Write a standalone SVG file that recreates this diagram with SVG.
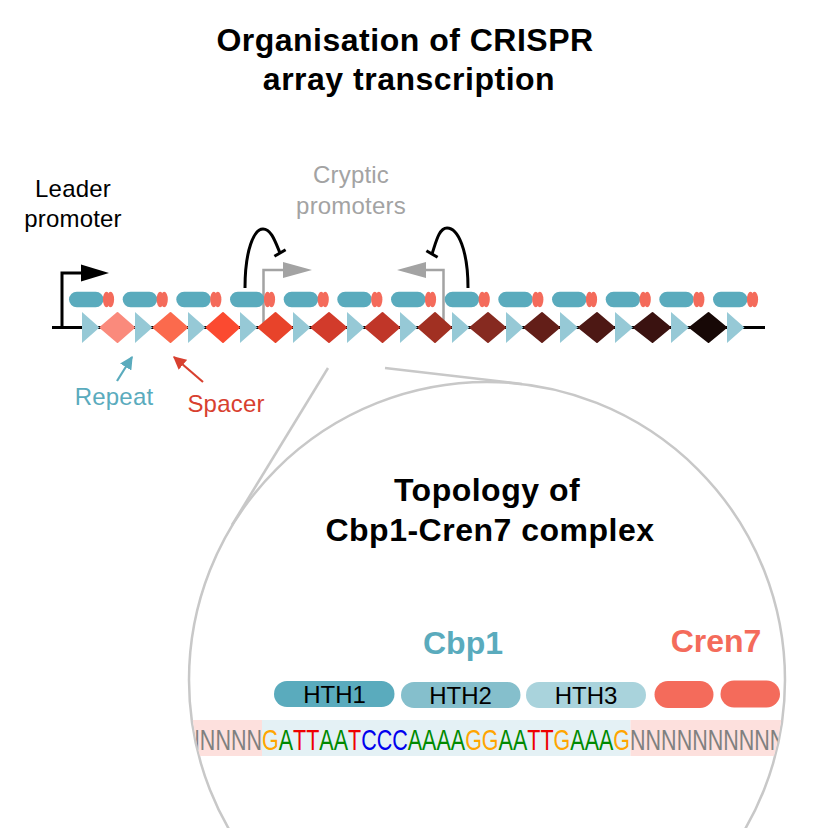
<svg xmlns="http://www.w3.org/2000/svg" width="828" height="828" viewBox="0 0 828 828">
<style>
text{font-family:"Liberation Sans",Arial,Helvetica,sans-serif}
.title{font-size:32px;font-weight:bold;fill:#000;letter-spacing:0.5px}
.lbl{font-size:24px;letter-spacing:0.2px}
.rep{fill:#96c9d6}
.pill{fill:#5aabbd}
.knob{fill:#f46b5b}
.bb{stroke:#000;stroke-width:3;fill:none}
.gray{stroke:#a3a3a3;stroke-width:2.5;fill:none}
.rpr{stroke:#000;stroke-width:3;fill:none;stroke-linecap:butt}
.zoom{stroke:#c8c8c8;stroke-width:2.5;fill:none}
.dia{stroke-linejoin:round;stroke-width:2}
.hth{font-size:24px;fill:#000}
.seq{font-size:30px}
.N{fill:#808080}.G{fill:#ffa500}.A{fill:#008a00}.T{fill:#ee0000}.C{fill:#0000ee}
</style>
<defs>
<marker id="ahTeal" viewBox="0 0 10 10" refX="9" refY="5" markerWidth="6" markerHeight="6" orient="auto" markerUnits="strokeWidth"><path d="M0,0 L10,5 L0,10 Z" fill="#5aabbd"/></marker>
<marker id="ahRed" viewBox="0 0 10 10" refX="9" refY="5" markerWidth="6" markerHeight="6" orient="auto" markerUnits="strokeWidth"><path d="M0,0 L10,5 L0,10 Z" fill="#d8402f"/></marker>
<clipPath id="circClip"><circle cx="487" cy="680" r="297"/></clipPath>
</defs>

<g id="title">
<text class="title" x="405" y="51" text-anchor="middle">Organisation of CRISPR</text>
<text class="title" x="409" y="90" text-anchor="middle">array transcription</text>
</g>

<g id="leader-label">
<text class="lbl" x="73" y="197" text-anchor="middle" fill="#000">Leader</text>
<text class="lbl" x="73" y="227" text-anchor="middle" fill="#000">promoter</text>
</g>

<g id="cryptic-label">
<text class="lbl" x="351" y="183" text-anchor="middle" fill="#a3a3a3">Cryptic</text>
<text class="lbl" x="351" y="214" text-anchor="middle" fill="#a3a3a3">promoters</text>
</g>

<g id="connectors">
<line class="bb" x1="52" y1="327.5" x2="765" y2="327.5"/>
<path class="bb" d="M62,327.5 V273 H84"/>
<polygon points="81,264.5 109,273 81,281.5" fill="#000"/>
<path class="gray" d="M263.5,327 V270 H286"/>
<polygon points="283,262 312,270 283,278" fill="#a3a3a3"/>
<path class="gray" d="M443.5,327 V270 H423"/>
<polygon points="426,262 397,270 426,278" fill="#a3a3a3"/>
<path class="rpr" d="M245,288 C245,250 254,229 263,229 C271,229 275,241 280,253"/>
<line class="rpr" x1="274.4" y1="256.3" x2="285.6" y2="249.8"/>
<path class="rpr" d="M468,288 C468,250 458,228 447,228 C439,228 436,242 432,254"/>
<line class="rpr" x1="426.4" y1="250.8" x2="437.6" y2="257.3"/>
<line x1="117" y1="381" x2="132" y2="357" stroke="#5aabbd" stroke-width="2.2" marker-end="url(#ahTeal)"/>
<line x1="203" y1="382" x2="174" y2="357" stroke="#d8402f" stroke-width="2.2" marker-end="url(#ahRed)"/>
<line class="zoom" x1="328" y1="368" x2="232" y2="525"/>
<line class="zoom" x1="385" y1="368" x2="522" y2="384"/>
</g>

<g id="array">
<g id="repeats">
<polygon class="rep" points="82,312 99.5,327.5 82,343"/>
<polygon class="rep" points="135,312 152.5,327.5 135,343"/>
<polygon class="rep" points="188,312 205.5,327.5 188,343"/>
<polygon class="rep" points="240,312 257.5,327.5 240,343"/>
<polygon class="rep" points="293,312 310.5,327.5 293,343"/>
<polygon class="rep" points="347,312 364.5,327.5 347,343"/>
<polygon class="rep" points="400,312 417.5,327.5 400,343"/>
<polygon class="rep" points="452,312 469.5,327.5 452,343"/>
<polygon class="rep" points="506,312 523.5,327.5 506,343"/>
<polygon class="rep" points="560,312 578,327.5 560,343"/>
<polygon class="rep" points="615,312 633,327.5 615,343"/>
<polygon class="rep" points="671,312 689,327.5 671,343"/>
<polygon class="rep" points="727,312 744.5,327.5 727,343"/>
</g>
<g id="spacers">
<polygon class="dia" fill="#fa8a7c" stroke="#fa8a7c" points="100.5,327.5 117.5,313 134,327.5 117.5,342"/>
<polygon class="dia" fill="#fb6a4d" stroke="#fb6a4d" points="153.5,327.5 170.5,313 187,327.5 170.5,342"/>
<polygon class="dia" fill="#fb4a30" stroke="#fb4a30" points="206.5,327.5 223,313 239,327.5 223,342"/>
<polygon class="dia" fill="#e8432a" stroke="#e8432a" points="258.5,327.5 275.5,313 292,327.5 275.5,342"/>
<polygon class="dia" fill="#d23b2b" stroke="#d23b2b" points="311.5,327.5 329,313 346,327.5 329,342"/>
<polygon class="dia" fill="#c03628" stroke="#c03628" points="365.5,327.5 382.5,313 399,327.5 382.5,342"/>
<polygon class="dia" fill="#a13022" stroke="#a13022" points="418.5,327.5 435,313 451,327.5 435,342"/>
<polygon class="dia" fill="#862a20" stroke="#862a20" points="470.5,327.5 488,313 505,327.5 488,342"/>
<polygon class="dia" fill="#631e18" stroke="#631e18" points="524.5,327.5 542,313 559,327.5 542,342"/>
<polygon class="dia" fill="#4d1814" stroke="#4d1814" points="579,327.5 597,313 614,327.5 597,342"/>
<polygon class="dia" fill="#3a1210" stroke="#3a1210" points="634,327.5 652.5,313 670,327.5 652.5,342"/>
<polygon class="dia" fill="#170806" stroke="#170806" points="690,327.5 708.5,313 726,327.5 708.5,342"/>
</g>
<g id="cbp1-cren7-units">
<g><rect class="pill" x="69" y="291.7" width="34.5" height="15.6" rx="7.8"/><ellipse class="knob" cx="106.5" cy="299.5" rx="3.6" ry="7.8"/><ellipse class="knob" cx="110.5" cy="299.5" rx="3.6" ry="7.8"/></g>
<g><rect class="pill" x="122.7" y="291.7" width="34.5" height="15.6" rx="7.8"/><ellipse class="knob" cx="160.2" cy="299.5" rx="3.6" ry="7.8"/><ellipse class="knob" cx="164.2" cy="299.5" rx="3.6" ry="7.8"/></g>
<g><rect class="pill" x="176.3" y="291.7" width="34.5" height="15.6" rx="7.8"/><ellipse class="knob" cx="213.8" cy="299.5" rx="3.6" ry="7.8"/><ellipse class="knob" cx="217.8" cy="299.5" rx="3.6" ry="7.8"/></g>
<g><rect class="pill" x="230" y="291.7" width="34.5" height="15.6" rx="7.8"/><ellipse class="knob" cx="267.5" cy="299.5" rx="3.6" ry="7.8"/><ellipse class="knob" cx="271.5" cy="299.5" rx="3.6" ry="7.8"/></g>
<g><rect class="pill" x="283.7" y="291.7" width="34.5" height="15.6" rx="7.8"/><ellipse class="knob" cx="321.2" cy="299.5" rx="3.6" ry="7.8"/><ellipse class="knob" cx="325.2" cy="299.5" rx="3.6" ry="7.8"/></g>
<g><rect class="pill" x="337.3" y="291.7" width="34.5" height="15.6" rx="7.8"/><ellipse class="knob" cx="374.8" cy="299.5" rx="3.6" ry="7.8"/><ellipse class="knob" cx="378.8" cy="299.5" rx="3.6" ry="7.8"/></g>
<g><rect class="pill" x="391" y="291.7" width="34.5" height="15.6" rx="7.8"/><ellipse class="knob" cx="428.5" cy="299.5" rx="3.6" ry="7.8"/><ellipse class="knob" cx="432.5" cy="299.5" rx="3.6" ry="7.8"/></g>
<g><rect class="pill" x="444.7" y="291.7" width="34.5" height="15.6" rx="7.8"/><ellipse class="knob" cx="482.2" cy="299.5" rx="3.6" ry="7.8"/><ellipse class="knob" cx="486.2" cy="299.5" rx="3.6" ry="7.8"/></g>
<g><rect class="pill" x="498.3" y="291.7" width="34.5" height="15.6" rx="7.8"/><ellipse class="knob" cx="535.8" cy="299.5" rx="3.6" ry="7.8"/><ellipse class="knob" cx="539.8" cy="299.5" rx="3.6" ry="7.8"/></g>
<g><rect class="pill" x="552" y="291.7" width="34.5" height="15.6" rx="7.8"/><ellipse class="knob" cx="589.5" cy="299.5" rx="3.6" ry="7.8"/><ellipse class="knob" cx="593.5" cy="299.5" rx="3.6" ry="7.8"/></g>
<g><rect class="pill" x="605.7" y="291.7" width="34.5" height="15.6" rx="7.8"/><ellipse class="knob" cx="643.2" cy="299.5" rx="3.6" ry="7.8"/><ellipse class="knob" cx="647.2" cy="299.5" rx="3.6" ry="7.8"/></g>
<g><rect class="pill" x="659.3" y="291.7" width="34.5" height="15.6" rx="7.8"/><ellipse class="knob" cx="696.8" cy="299.5" rx="3.6" ry="7.8"/><ellipse class="knob" cx="700.8" cy="299.5" rx="3.6" ry="7.8"/></g>
<g><rect class="pill" x="713" y="291.7" width="34.5" height="15.6" rx="7.8"/><ellipse class="knob" cx="750.5" cy="299.5" rx="3.6" ry="7.8"/><ellipse class="knob" cx="754.5" cy="299.5" rx="3.6" ry="7.8"/></g>
</g>
</g>

<g id="repeat-label"><text class="lbl" x="114" y="405" text-anchor="middle" fill="#5aabbd">Repeat</text></g>
<g id="spacer-label"><text class="lbl" x="226" y="412" text-anchor="middle" fill="#d8402f">Spacer</text></g>

<g id="zoom-circle">
<circle class="zoom" cx="487" cy="680" r="298"/>
<g clip-path="url(#circClip)">
<rect x="180" y="720" width="82" height="36" fill="#fde0dd"/>
<rect x="262" y="720" width="368.5" height="36" fill="#e4f1f5"/>
<rect x="630.5" y="720" width="170" height="36" fill="#fde0dd"/>
<text class="seq" transform="translate(168.8,749.5) scale(0.717,1)"><tspan class="N">NNNNNN</tspan><tspan class="G">G</tspan><tspan class="A">A</tspan><tspan class="T">TT</tspan><tspan class="A">AA</tspan><tspan class="T">T</tspan><tspan class="C">CCC</tspan><tspan class="A">AAAA</tspan><tspan class="G">GG</tspan><tspan class="A">AA</tspan><tspan class="T">TT</tspan><tspan class="G">G</tspan><tspan class="A">AAA</tspan><tspan class="G">G</tspan><tspan class="N">NNNNNNNNNNN</tspan></text>
</g>
</g>

<g id="topology-title">
<text class="title" x="487" y="501" text-anchor="middle">Topology of</text>
<text class="title" x="490" y="541" text-anchor="middle">Cbp1-Cren7 complex</text>
</g>

<g id="cbp1">
<text x="463" y="654" text-anchor="middle" font-size="32" font-weight="bold" fill="#5aabbd">Cbp1</text>
<g id="hth1"><rect x="274" y="681" width="120.5" height="26" rx="13" fill="#5aabbd"/><text class="hth" x="334.5" y="703" text-anchor="middle">HTH1</text></g>
<g id="hth2"><rect x="401" y="682" width="119.5" height="26" rx="13" fill="#85bfcc"/><text class="hth" x="460.5" y="703.5" text-anchor="middle">HTH2</text></g>
<g id="hth3"><rect x="526" y="682" width="120" height="26" rx="13" fill="#a9d3dc"/><text class="hth" x="586" y="703.5" text-anchor="middle">HTH3</text></g>
</g>

<g id="cren7">
<text x="716" y="652" text-anchor="middle" font-size="32" font-weight="bold" fill="#f46b5b">Cren7</text>
<rect x="654.5" y="681" width="59" height="27" rx="13.5" fill="#f46b5b"/>
<rect x="720.5" y="680.5" width="59.5" height="27" rx="13.5" fill="#f46b5b"/>
</g>
</svg>
